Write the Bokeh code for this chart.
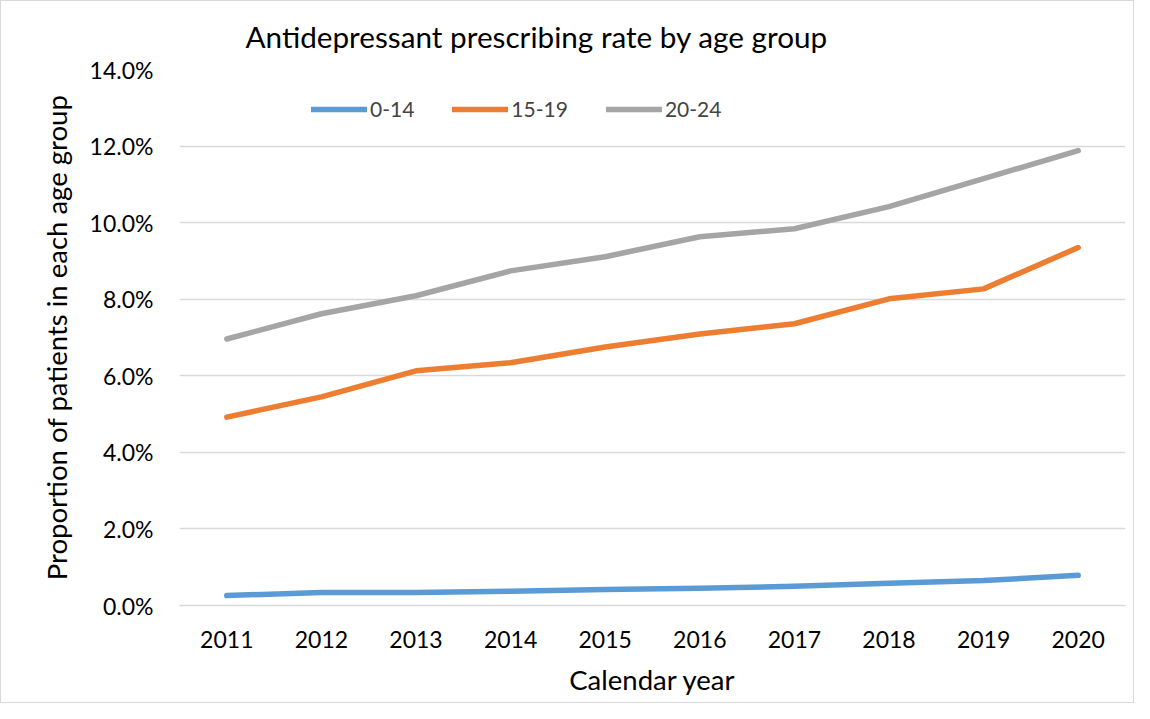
from bokeh.plotting import figure
from bokeh.models import (Range1d, FactorRange, FixedTicker, PrintfTickFormatter,
                          Legend, LegendItem)
from bokeh.embed import file_html
from bokeh.resources import INLINE

years = ["2011", "2012", "2013", "2014", "2015", "2016", "2017", "2018", "2019", "2020"]
age_0_14 = [0.26, 0.34, 0.34, 0.37, 0.42, 0.45, 0.50, 0.58, 0.65, 0.79]
age_15_19 = [4.92, 5.45, 6.13, 6.34, 6.75, 7.09, 7.36, 8.01, 8.27, 9.35]
age_20_24 = [6.96, 7.62, 8.09, 8.74, 9.11, 9.63, 9.84, 10.42, 11.15, 11.88]
series_names = ["0-14", "15-19", "20-24"]
colors = ["#5B9BD5", "#ED7D31", "#A5A5A5"]
y_ticks = [0, 2, 4, 6, 8, 10, 12, 14]

FONT = "Lato"

p = figure(width=1134, height=703, x_range=FactorRange(*years, range_padding=0),
           y_range=Range1d(0, 14), output_backend="svg", toolbar_location=None,
           min_border_left=178, min_border_right=10, min_border_top=68, min_border_bottom=99)
p.styles = {"border": "1px solid #d9d9d9"}

p.title.text = "Antidepressant prescribing rate by age group"
p.title.text_font = FONT
p.title.text_font_size = "29.7px"
p.title.text_font_style = "normal"
p.title.text_color = "#000000"
p.title.align = "left"
p.title.vertical_align = "top"
p.title.offset = 66
p.title.standoff = 28

p.outline_line_color = None
p.background_fill_color = "white"
p.border_fill_color = "white"

p.xgrid.grid_line_color = None
p.ygrid.grid_line_color = "#d9d9d9"
p.ygrid.grid_line_width = 1.5

p.yaxis.ticker = FixedTicker(ticks=y_ticks)
p.yaxis.formatter = PrintfTickFormatter(format="%.1f%%")
p.yaxis.axis_line_color = None
p.yaxis.major_tick_line_color = None
p.yaxis.minor_tick_line_color = None
p.yaxis.major_tick_out = 0
p.yaxis.major_tick_in = 0
p.yaxis.major_label_text_font = FONT
p.yaxis.major_label_text_font_size = "23px"
p.yaxis.major_label_text_color = "#000000"
p.yaxis.major_label_standoff = 26
p.yaxis.axis_label = "Proportion of patients in each age group"
p.yaxis.axis_label_text_font = FONT
p.yaxis.axis_label_text_font_size = "27.5px"
p.yaxis.axis_label_text_font_style = "normal"
p.yaxis.axis_label_text_color = "#000000"
p.yaxis.axis_label_standoff = 14

p.xaxis.axis_line_color = "#d9d9d9"
p.xaxis.axis_line_width = 1.5
p.xaxis.major_tick_line_color = None
p.xaxis.minor_tick_line_color = None
p.xaxis.major_tick_out = 0
p.xaxis.major_tick_in = 0
p.xaxis.major_label_text_font = FONT
p.xaxis.major_label_text_font_size = "23px"
p.xaxis.major_label_text_color = "#000000"
p.xaxis.major_label_standoff = 25
p.xaxis.axis_label = "Calendar year"
p.xaxis.axis_label_text_font = FONT
p.xaxis.axis_label_text_font_size = "27.5px"
p.xaxis.axis_label_text_font_style = "normal"
p.xaxis.axis_label_text_color = "#000000"
p.xaxis.axis_label_standoff = 12

items = []
for name, vals, c in zip(series_names, [age_0_14, age_15_19, age_20_24], colors):
    r = p.line(years, vals, line_color=c, line_width=5.5, line_cap="round", line_join="round")
    items.append(LegendItem(label=name, renderers=[r]))

legend = Legend(items=items, orientation="horizontal", location=(132, 484),
                border_line_color=None, background_fill_alpha=0,
                label_text_font=FONT, label_text_font_size="21px",
                glyph_width=56, label_standoff=3, spacing=38, padding=0, margin=0)
p.add_layout(legend, "center")

open("out.html", "w").write(file_html(p, INLINE))
